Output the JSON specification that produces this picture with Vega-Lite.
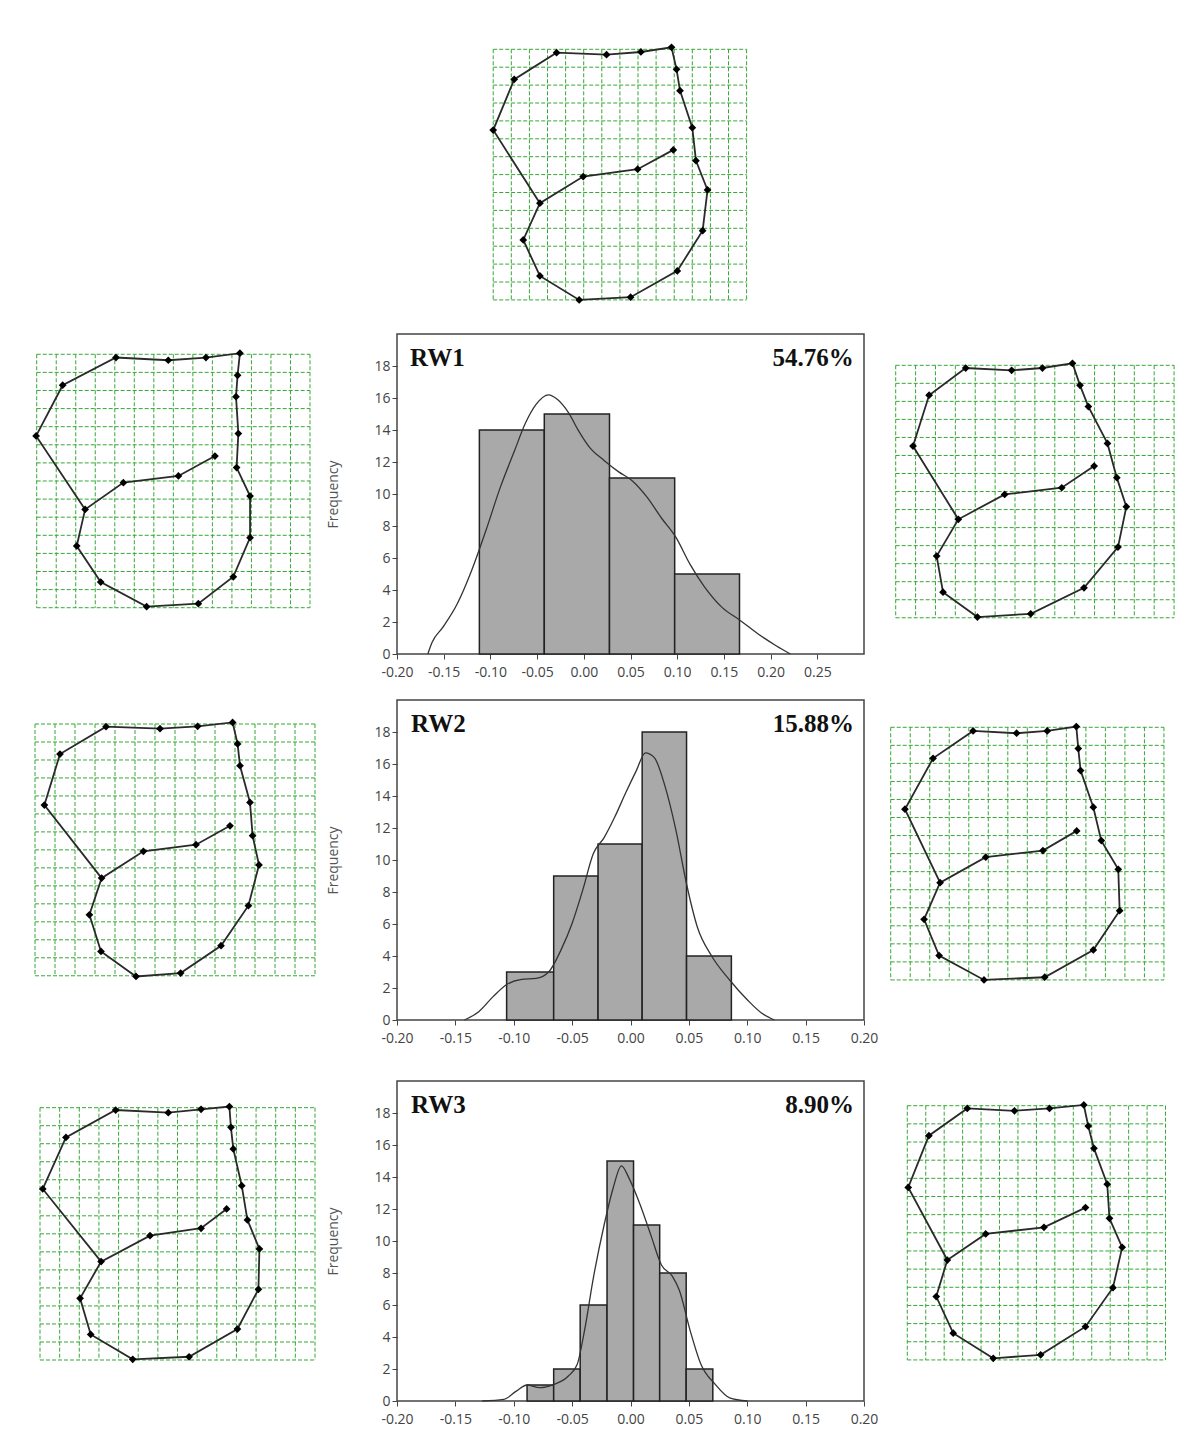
{
"$schema": "https://vega.github.io/schema/vega-lite/v6.json",
"padding": 0,
"background": "white",
"config": {
  "view": {"stroke": null},
  "locale": {"number": {"decimal": ".", "thousands": ",", "grouping": [3], "currency": ["$", ""], "minus": "-"}},
  "axis": {"grid": false, "domain": false, "tickSize": 5, "tickColor": "#444", "labelFont": "Open Sans", "labelFontSize": 14, "labelColor": "#444", "labelPadding": 2, "titleFont": "Open Sans", "titleFontSize": 14, "titleFontWeight": "normal", "titleColor": "#555"}
},
"datasets": {
  "grid": [{"g":0},{"g":1},{"g":2},{"g":3},{"g":4},{"g":5},{"g":6},{"g":7},{"g":8},{"g":9},{"g":10},{"g":11},{"g":12},{"g":13},{"g":14}],
  "lm": [
    {"p":"top","i":1,"x":9.95,"y":5.62},{"p":"top","i":2,"x":7.98,"y":6.70},{"p":"top","i":3,"x":4.97,"y":7.11},{"p":"top","i":4,"x":2.58,"y":8.60},{"p":"top","i":5,"x":1.66,"y":10.65},{"p":"top","i":6,"x":2.58,"y":12.66},{"p":"top","i":7,"x":4.75,"y":14.0},{"p":"top","i":8,"x":7.59,"y":13.85},{"p":"top","i":9,"x":10.17,"y":12.38},{"p":"top","i":10,"x":11.57,"y":10.13},{"p":"top","i":11,"x":11.84,"y":7.86},{"p":"top","i":12,"x":11.2,"y":6.22},{"p":"top","i":13,"x":11.0,"y":4.38},{"p":"top","i":14,"x":10.32,"y":2.31},{"p":"top","i":15,"x":10.13,"y":1.12},{"p":"top","i":16,"x":9.85,"y":-0.11},{"p":"top","i":17,"x":8.16,"y":0.15},{"p":"top","i":18,"x":6.26,"y":0.30},{"p":"top","i":19,"x":3.5,"y":0.19},{"p":"top","i":20,"x":1.16,"y":1.68},{"p":"top","i":21,"x":0.0,"y":4.51},{"p":"top","i":22,"x":2.58,"y":8.60},
    {"p":"L1","i":1,"x":9.13,"y":5.62},{"p":"L1","i":2,"x":7.26,"y":6.72},{"p":"L1","i":3,"x":4.44,"y":7.09},{"p":"L1","i":4,"x":2.48,"y":8.57},{"p":"L1","i":5,"x":2.05,"y":10.59},{"p":"L1","i":6,"x":3.28,"y":12.58},{"p":"L1","i":7,"x":5.63,"y":13.94},{"p":"L1","i":8,"x":8.28,"y":13.78},{"p":"L1","i":9,"x":10.07,"y":12.29},{"p":"L1","i":10,"x":10.93,"y":10.13},{"p":"L1","i":11,"x":10.93,"y":7.83},{"p":"L1","i":12,"x":10.24,"y":6.26},{"p":"L1","i":13,"x":10.33,"y":4.38},{"p":"L1","i":14,"x":10.21,"y":2.34},{"p":"L1","i":15,"x":10.29,"y":1.16},{"p":"L1","i":16,"x":10.41,"y":-0.06},{"p":"L1","i":17,"x":8.67,"y":0.18},{"p":"L1","i":18,"x":6.74,"y":0.33},{"p":"L1","i":19,"x":4.06,"y":0.18},{"p":"L1","i":20,"x":1.33,"y":1.71},{"p":"L1","i":21,"x":-0.03,"y":4.51},{"p":"L1","i":22,"x":2.48,"y":8.57},
    {"p":"R1","i":1,"x":9.98,"y":5.59},{"p":"R1","i":2,"x":8.35,"y":6.79},{"p":"R1","i":3,"x":5.48,"y":7.16},{"p":"R1","i":4,"x":3.15,"y":8.54},{"p":"R1","i":5,"x":2.06,"y":10.58},{"p":"R1","i":6,"x":2.38,"y":12.58},{"p":"R1","i":7,"x":4.11,"y":13.96},{"p":"R1","i":8,"x":6.79,"y":13.78},{"p":"R1","i":9,"x":9.47,"y":12.34},{"p":"R1","i":10,"x":11.18,"y":10.08},{"p":"R1","i":11,"x":11.6,"y":7.84},{"p":"R1","i":12,"x":11.12,"y":6.23},{"p":"R1","i":13,"x":10.65,"y":4.33},{"p":"R1","i":14,"x":9.69,"y":2.29},{"p":"R1","i":15,"x":9.27,"y":1.11},{"p":"R1","i":16,"x":8.89,"y":-0.11},{"p":"R1","i":17,"x":7.38,"y":0.15},{"p":"R1","i":18,"x":5.83,"y":0.28},{"p":"R1","i":19,"x":3.52,"y":0.15},{"p":"R1","i":20,"x":1.68,"y":1.66},{"p":"R1","i":21,"x":0.87,"y":4.48},{"p":"R1","i":22,"x":3.15,"y":8.54},
    {"p":"L2","i":1,"x":9.75,"y":5.66},{"p":"L2","i":2,"x":8.05,"y":6.71},{"p":"L2","i":3,"x":5.42,"y":7.08},{"p":"L2","i":4,"x":3.33,"y":8.57},{"p":"L2","i":5,"x":2.72,"y":10.61},{"p":"L2","i":6,"x":3.3,"y":12.65},{"p":"L2","i":7,"x":5.05,"y":14.04},{"p":"L2","i":8,"x":7.28,"y":13.85},{"p":"L2","i":9,"x":9.3,"y":12.33},{"p":"L2","i":10,"x":10.67,"y":10.1},{"p":"L2","i":11,"x":11.2,"y":7.84},{"p":"L2","i":12,"x":10.88,"y":6.21},{"p":"L2","i":13,"x":10.75,"y":4.36},{"p":"L2","i":14,"x":10.25,"y":2.32},{"p":"L2","i":15,"x":10.13,"y":1.11},{"p":"L2","i":16,"x":9.88,"y":-0.09},{"p":"L2","i":17,"x":8.13,"y":0.13},{"p":"L2","i":18,"x":6.25,"y":0.26},{"p":"L2","i":19,"x":3.55,"y":0.15},{"p":"L2","i":20,"x":1.25,"y":1.67},{"p":"L2","i":21,"x":0.47,"y":4.51},{"p":"L2","i":22,"x":3.33,"y":8.57},
    {"p":"R2","i":1,"x":9.53,"y":5.74},{"p":"R2","i":2,"x":7.8,"y":6.83},{"p":"R2","i":3,"x":4.87,"y":7.2},{"p":"R2","i":4,"x":2.53,"y":8.61},{"p":"R2","i":5,"x":1.71,"y":10.64},{"p":"R2","i":6,"x":2.48,"y":12.65},{"p":"R2","i":7,"x":4.78,"y":14.0},{"p":"R2","i":8,"x":7.89,"y":13.85},{"p":"R2","i":9,"x":10.38,"y":12.34},{"p":"R2","i":10,"x":11.73,"y":10.16},{"p":"R2","i":11,"x":11.66,"y":7.87},{"p":"R2","i":12,"x":10.79,"y":6.28},{"p":"R2","i":13,"x":10.38,"y":4.43},{"p":"R2","i":14,"x":9.73,"y":2.4},{"p":"R2","i":15,"x":9.61,"y":1.18},{"p":"R2","i":16,"x":9.51,"y":-0.04},{"p":"R2","i":17,"x":8.02,"y":0.2},{"p":"R2","i":18,"x":6.45,"y":0.33},{"p":"R2","i":19,"x":4.22,"y":0.2},{"p":"R2","i":20,"x":2.17,"y":1.72},{"p":"R2","i":21,"x":0.73,"y":4.54},{"p":"R2","i":22,"x":2.53,"y":8.61},
    {"p":"L3","i":1,"x":9.5,"y":5.62},{"p":"L3","i":2,"x":8.2,"y":6.69},{"p":"L3","i":3,"x":5.6,"y":7.1},{"p":"L3","i":4,"x":3.11,"y":8.54},{"p":"L3","i":5,"x":2.04,"y":10.58},{"p":"L3","i":6,"x":2.58,"y":12.58},{"p":"L3","i":7,"x":4.72,"y":13.96},{"p":"L3","i":8,"x":7.59,"y":13.82},{"p":"L3","i":9,"x":10.05,"y":12.28},{"p":"L3","i":10,"x":11.12,"y":10.08},{"p":"L3","i":11,"x":11.17,"y":7.84},{"p":"L3","i":12,"x":10.56,"y":6.23},{"p":"L3","i":13,"x":10.27,"y":4.33},{"p":"L3","i":14,"x":9.84,"y":2.29},{"p":"L3","i":15,"x":9.72,"y":1.09},{"p":"L3","i":16,"x":9.64,"y":-0.06},{"p":"L3","i":17,"x":8.2,"y":0.09},{"p":"L3","i":18,"x":6.53,"y":0.28},{"p":"L3","i":19,"x":3.85,"y":0.13},{"p":"L3","i":20,"x":1.32,"y":1.65},{"p":"L3","i":21,"x":0.14,"y":4.51},{"p":"L3","i":22,"x":3.11,"y":8.54},
    {"p":"R3","i":1,"x":9.66,"y":5.61},{"p":"R3","i":2,"x":7.41,"y":6.7},{"p":"R3","i":3,"x":4.25,"y":7.06},{"p":"R3","i":4,"x":2.17,"y":8.5},{"p":"R3","i":5,"x":1.57,"y":10.51},{"p":"R3","i":6,"x":2.49,"y":12.53},{"p":"R3","i":7,"x":4.66,"y":13.91},{"p":"R3","i":8,"x":7.23,"y":13.72},{"p":"R3","i":9,"x":9.66,"y":12.17},{"p":"R3","i":10,"x":11.15,"y":10.02},{"p":"R3","i":11,"x":11.65,"y":7.8},{"p":"R3","i":12,"x":10.96,"y":6.2},{"p":"R3","i":13,"x":10.84,"y":4.32},{"p":"R3","i":14,"x":10.12,"y":2.35},{"p":"R3","i":15,"x":9.81,"y":1.12},{"p":"R3","i":16,"x":9.57,"y":-0.04},{"p":"R3","i":17,"x":7.71,"y":0.15},{"p":"R3","i":18,"x":5.81,"y":0.28},{"p":"R3","i":19,"x":3.25,"y":0.15},{"p":"R3","i":20,"x":1.17,"y":1.65},{"p":"R3","i":21,"x":0.05,"y":4.5},{"p":"R3","i":22,"x":2.17,"y":8.5}
  ],
  "bins": [
    {"rw":"RW1","b0":-0.1118,"b1":-0.0423,"n":14},{"rw":"RW1","b0":-0.0423,"b1":0.0275,"n":15},{"rw":"RW1","b0":0.0275,"b1":0.0973,"n":11},{"rw":"RW1","b0":0.0973,"b1":0.1667,"n":5},
    {"rw":"RW2","b0":-0.1061,"b1":-0.0658,"n":3},{"rw":"RW2","b0":-0.0658,"b1":-0.0278,"n":9},{"rw":"RW2","b0":-0.0278,"b1":0.0100,"n":11},{"rw":"RW2","b0":0.0100,"b1":0.0480,"n":18},{"rw":"RW2","b0":0.0480,"b1":0.0864,"n":4},
    {"rw":"RW3","b0":-0.0886,"b1":-0.0658,"n":1},{"rw":"RW3","b0":-0.0658,"b1":-0.0431,"n":2},{"rw":"RW3","b0":-0.0431,"b1":-0.0201,"n":6},{"rw":"RW3","b0":-0.0201,"b1":0.0026,"n":15},{"rw":"RW3","b0":0.0026,"b1":0.0250,"n":11},{"rw":"RW3","b0":0.0250,"b1":0.0477,"n":8},{"rw":"RW3","b0":0.0477,"b1":0.0705,"n":2}
  ],
  "dens": [
    {"rw":"RW1","x":-0.167,"y":0},{"rw":"RW1","x":-0.1624,"y":0.73},{"rw":"RW1","x":-0.151,"y":1.66},{"rw":"RW1","x":-0.1356,"y":3.12},{"rw":"RW1","x":-0.1202,"y":5.2},{"rw":"RW1","x":-0.1049,"y":7.7},{"rw":"RW1","x":-0.0895,"y":10.4},{"rw":"RW1","x":-0.0742,"y":12.7},{"rw":"RW1","x":-0.0627,"y":14.4},{"rw":"RW1","x":-0.0511,"y":15.6},{"rw":"RW1","x":-0.0377,"y":16.2},{"rw":"RW1","x":-0.0281,"y":15.9},{"rw":"RW1","x":-0.0166,"y":15.1},{"rw":"RW1","x":-0.0051,"y":13.9},{"rw":"RW1","x":0.0064,"y":12.9},{"rw":"RW1","x":0.0217,"y":12.1},{"rw":"RW1","x":0.037,"y":11.4},{"rw":"RW1","x":0.0524,"y":10.8},{"rw":"RW1","x":0.0677,"y":9.8},{"rw":"RW1","x":0.0831,"y":8.5},{"rw":"RW1","x":0.0985,"y":7.3},{"rw":"RW1","x":0.1138,"y":5.6},{"rw":"RW1","x":0.1292,"y":4.2},{"rw":"RW1","x":0.1483,"y":2.9},{"rw":"RW1","x":0.1675,"y":2.1},{"rw":"RW1","x":0.1867,"y":1.25},{"rw":"RW1","x":0.2059,"y":0.52},{"rw":"RW1","x":0.2212,"y":0},
    {"rw":"RW2","x":-0.1423,"y":0},{"rw":"RW2","x":-0.13,"y":0.52},{"rw":"RW2","x":-0.1177,"y":1.46},{"rw":"RW2","x":-0.1054,"y":2.25},{"rw":"RW2","x":-0.0932,"y":2.54},{"rw":"RW2","x":-0.0809,"y":2.6},{"rw":"RW2","x":-0.0701,"y":3.0},{"rw":"RW2","x":-0.0594,"y":4.4},{"rw":"RW2","x":-0.0502,"y":6.0},{"rw":"RW2","x":-0.041,"y":8.1},{"rw":"RW2","x":-0.0318,"y":10.4},{"rw":"RW2","x":-0.0226,"y":11.4},{"rw":"RW2","x":-0.0134,"y":12.7},{"rw":"RW2","x":-0.0041,"y":14.2},{"rw":"RW2","x":0.0051,"y":15.6},{"rw":"RW2","x":0.0127,"y":16.7},{"rw":"RW2","x":0.0204,"y":16.4},{"rw":"RW2","x":0.0296,"y":14.6},{"rw":"RW2","x":0.0388,"y":11.9},{"rw":"RW2","x":0.048,"y":8.5},{"rw":"RW2","x":0.0573,"y":5.8},{"rw":"RW2","x":0.0695,"y":4.0},{"rw":"RW2","x":0.0849,"y":2.5},{"rw":"RW2","x":0.1002,"y":1.25},{"rw":"RW2","x":0.1125,"y":0.42},{"rw":"RW2","x":0.1233,"y":0},
    {"rw":"RW3","x":-0.127,"y":0},{"rw":"RW3","x":-0.1085,"y":0.1},{"rw":"RW3","x":-0.0978,"y":0.62},{"rw":"RW3","x":-0.0886,"y":1.0},{"rw":"RW3","x":-0.0778,"y":0.83},{"rw":"RW3","x":-0.0655,"y":1.04},{"rw":"RW3","x":-0.0532,"y":1.56},{"rw":"RW3","x":-0.0456,"y":2.3},{"rw":"RW3","x":-0.0394,"y":4.4},{"rw":"RW3","x":-0.0318,"y":7.7},{"rw":"RW3","x":-0.0226,"y":11.0},{"rw":"RW3","x":-0.0149,"y":13.3},{"rw":"RW3","x":-0.0078,"y":14.7},{"rw":"RW3","x":-0.0011,"y":13.9},{"rw":"RW3","x":0.0081,"y":12.3},{"rw":"RW3","x":0.0173,"y":10.4},{"rw":"RW3","x":0.0265,"y":8.5},{"rw":"RW3","x":0.0358,"y":7.8},{"rw":"RW3","x":0.0419,"y":6.9},{"rw":"RW3","x":0.0511,"y":4.4},{"rw":"RW3","x":0.0603,"y":2.3},{"rw":"RW3","x":0.0726,"y":1.04},{"rw":"RW3","x":0.0849,"y":0.2},{"rw":"RW3","x":0.1002,"y":0}
  ],
  "labels": [
    {"rw":"RW1","name":"RW1","pct":"54.76%"},
    {"rw":"RW2","name":"RW2","pct":"15.88%"},
    {"rw":"RW3","name":"RW3","pct":"8.90%"}
  ]
},
"vconcat": [
  {"width":800,"height":323,"layer":[
    {"data":{"name":"grid"},"mark":{"type":"rule","stroke":"#36a836","strokeDash":[4,2],"strokeWidth":1},"encoding":{"x":{"field":"g","type":"quantitative","scale":{"domain":[-27.25,16.95],"nice":false,"zero":false},"axis":null},"y":{"datum":0,"type":"quantitative","scale":{"domain":[-2.754,15.29],"nice":false,"zero":false,"reverse":true},"axis":null},"y2":{"datum":14}}},
    {"data":{"name":"grid"},"mark":{"type":"rule","stroke":"#36a836","strokeDash":[4,2],"strokeWidth":1},"encoding":{"y":{"field":"g","type":"quantitative","scale":{"domain":[-2.754,15.29],"nice":false,"zero":false,"reverse":true},"axis":null},"x":{"datum":0,"type":"quantitative","scale":{"domain":[-27.25,16.95],"nice":false,"zero":false},"axis":null},"x2":{"datum":14}}},
    {"data":{"name":"lm"},"transform":[{"filter":"datum.p==='top'"}],"mark":{"type":"line","stroke":"#2a2a2a","strokeWidth":1.8},"encoding":{"x":{"field":"x","type":"quantitative","scale":{"domain":[-27.25,16.95],"nice":false,"zero":false},"axis":null},"y":{"field":"y","type":"quantitative","scale":{"domain":[-2.754,15.29],"nice":false,"zero":false,"reverse":true},"axis":null},"order":{"field":"i","type":"quantitative"}}},
    {"data":{"name":"lm"},"transform":[{"filter":"datum.p==='top' && datum.i<22"}],"mark":{"type":"point","shape":"diamond","filled":true,"color":"#000","size":60,"opacity":1},"encoding":{"x":{"field":"x","type":"quantitative","scale":{"domain":[-27.25,16.95],"nice":false,"zero":false},"axis":null},"y":{"field":"y","type":"quantitative","scale":{"domain":[-2.754,15.29],"nice":false,"zero":false,"reverse":true},"axis":null}}}
  ]},
  {"hconcat":[
    {"width":326,"height":355,"layer":[
      {"data":{"name":"grid"},"mark":{"type":"rule","stroke":"#36a836","strokeDash":[4,2],"strokeWidth":1},"encoding":{"x":{"field":"g","type":"quantitative","scale":{"domain":[-1.88,14.82],"nice":false,"zero":false},"axis":null},"y":{"datum":0,"type":"quantitative","scale":{"domain":[-1.12,18.49],"nice":false,"zero":false,"reverse":true},"axis":null},"y2":{"datum":14}}},
      {"data":{"name":"grid"},"mark":{"type":"rule","stroke":"#36a836","strokeDash":[4,2],"strokeWidth":1},"encoding":{"y":{"field":"g","type":"quantitative","scale":{"domain":[-1.12,18.49],"nice":false,"zero":false,"reverse":true},"axis":null},"x":{"datum":0,"type":"quantitative","scale":{"domain":[-1.88,14.82],"nice":false,"zero":false},"axis":null},"x2":{"datum":14}}},
      {"data":{"name":"lm"},"transform":[{"filter":"datum.p==='L1'"}],"mark":{"type":"line","stroke":"#2a2a2a","strokeWidth":1.8},"encoding":{"x":{"field":"x","type":"quantitative","scale":{"domain":[-1.88,14.82],"nice":false,"zero":false},"axis":null},"y":{"field":"y","type":"quantitative","scale":{"domain":[-1.12,18.49],"nice":false,"zero":false,"reverse":true},"axis":null},"order":{"field":"i","type":"quantitative"}}},
      {"data":{"name":"lm"},"transform":[{"filter":"datum.p==='L1' && datum.i<22"}],"mark":{"type":"point","shape":"diamond","filled":true,"color":"#000","size":60,"opacity":1},"encoding":{"x":{"field":"x","type":"quantitative","scale":{"domain":[-1.88,14.82],"nice":false,"zero":false},"axis":null},"y":{"field":"y","type":"quantitative","scale":{"domain":[-1.12,18.49],"nice":false,"zero":false,"reverse":true},"axis":null}}}
    ]},
    {"width":467,"height":320,"view":{"stroke":"#444","strokeWidth":1.5},"layer":[
      {"data":{"name":"bins"},"transform":[{"filter":"datum.rw==='RW1'"}],"mark":{"type":"rect","fill":"#a9a9a9","stroke":"#222","strokeWidth":1.5},"encoding":{"x":{"field":"b0","type":"quantitative","scale":{"domain":[-0.2,0.3],"nice":false,"zero":false},"axis":{"values":[-0.2,-0.15,-0.1,-0.05,0,0.05,0.1,0.15,0.2,0.25],"format":".2f","labelFlush":false,"labelOverlap":false,"labelPadding":6,"title":null}},"x2":{"field":"b1"},"y":{"field":"n","type":"quantitative","scale":{"domain":[0,20],"nice":false,"zero":true},"axis":{"values":[0,2,4,6,8,10,12,14,16,18],"title":"Frequency","titlePadding":33,"labelOverlap":false}},"y2":{"datum":0}}},
      {"data":{"name":"dens"},"transform":[{"filter":"datum.rw==='RW1'"}],"mark":{"type":"line","interpolate":"monotone","stroke":"#333","strokeWidth":1.3},"encoding":{"x":{"field":"x","type":"quantitative","axis":{"values":[-0.2,-0.15,-0.1,-0.05,0,0.05,0.1,0.15,0.2,0.25],"format":".2f","labelFlush":false,"labelOverlap":false,"labelPadding":6,"title":null}},"y":{"field":"y","type":"quantitative","axis":{"values":[0,2,4,6,8,10,12,14,16,18],"title":"Frequency","titlePadding":33,"labelOverlap":false}}}},
      {"data":{"name":"labels"},"transform":[{"filter":"datum.rw==='RW1'"}],"mark":{"type":"text","align":"left","baseline":"middle","font":"Liberation Serif","fontWeight":"bold","fontSize":25,"color":"#111"},"encoding":{"x":{"datum":-0.186,"type":"quantitative","axis":{"values":[-0.2,-0.15,-0.1,-0.05,0,0.05,0.1,0.15,0.2,0.25],"format":".2f","labelFlush":false,"labelOverlap":false,"labelPadding":6,"title":null}},"y":{"datum":18.5,"type":"quantitative","axis":{"values":[0,2,4,6,8,10,12,14,16,18],"title":"Frequency","titlePadding":33,"labelOverlap":false}},"text":{"field":"name"}}},
      {"data":{"name":"labels"},"transform":[{"filter":"datum.rw==='RW1'"}],"mark":{"type":"text","align":"right","baseline":"middle","font":"Liberation Serif","fontWeight":"bold","fontSize":25,"color":"#111"},"encoding":{"x":{"datum":0.289,"type":"quantitative","axis":{"values":[-0.2,-0.15,-0.1,-0.05,0,0.05,0.1,0.15,0.2,0.25],"format":".2f","labelFlush":false,"labelOverlap":false,"labelPadding":6,"title":null}},"y":{"datum":18.5,"type":"quantitative","axis":{"values":[0,2,4,6,8,10,12,14,16,18],"title":"Frequency","titlePadding":33,"labelOverlap":false}},"text":{"field":"pct"}}}
    ]},
    {"width":321,"height":355,"layer":[
      {"data":{"name":"grid"},"mark":{"type":"rule","stroke":"#36a836","strokeDash":[4,2],"strokeWidth":1},"encoding":{"x":{"field":"g","type":"quantitative","scale":{"domain":[-1.544,14.60],"nice":false,"zero":false},"axis":null},"y":{"datum":0,"type":"quantitative","scale":{"domain":[-1.736,17.95],"nice":false,"zero":false,"reverse":true},"axis":null},"y2":{"datum":14}}},
      {"data":{"name":"grid"},"mark":{"type":"rule","stroke":"#36a836","strokeDash":[4,2],"strokeWidth":1},"encoding":{"y":{"field":"g","type":"quantitative","scale":{"domain":[-1.736,17.95],"nice":false,"zero":false,"reverse":true},"axis":null},"x":{"datum":0,"type":"quantitative","scale":{"domain":[-1.544,14.60],"nice":false,"zero":false},"axis":null},"x2":{"datum":14}}},
      {"data":{"name":"lm"},"transform":[{"filter":"datum.p==='R1'"}],"mark":{"type":"line","stroke":"#2a2a2a","strokeWidth":1.8},"encoding":{"x":{"field":"x","type":"quantitative","scale":{"domain":[-1.544,14.60],"nice":false,"zero":false},"axis":null},"y":{"field":"y","type":"quantitative","scale":{"domain":[-1.736,17.95],"nice":false,"zero":false,"reverse":true},"axis":null},"order":{"field":"i","type":"quantitative"}}},
      {"data":{"name":"lm"},"transform":[{"filter":"datum.p==='R1' && datum.i<22"}],"mark":{"type":"point","shape":"diamond","filled":true,"color":"#000","size":60,"opacity":1},"encoding":{"x":{"field":"x","type":"quantitative","scale":{"domain":[-1.544,14.60],"nice":false,"zero":false},"axis":null},"y":{"field":"y","type":"quantitative","scale":{"domain":[-1.736,17.95],"nice":false,"zero":false,"reverse":true},"axis":null}}}
    ]}
  ],"spacing":0},
  {"hconcat":[
    {"width":326,"height":370,"layer":[
      {"data":{"name":"grid"},"mark":{"type":"rule","stroke":"#36a836","strokeDash":[4,2],"strokeWidth":1},"encoding":{"x":{"field":"g","type":"quantitative","scale":{"domain":[-1.75,14.55],"nice":false,"zero":false},"axis":null},"y":{"datum":0,"type":"quantitative","scale":{"domain":[-1.335,19.24],"nice":false,"zero":false,"reverse":true},"axis":null},"y2":{"datum":14}}},
      {"data":{"name":"grid"},"mark":{"type":"rule","stroke":"#36a836","strokeDash":[4,2],"strokeWidth":1},"encoding":{"y":{"field":"g","type":"quantitative","scale":{"domain":[-1.335,19.24],"nice":false,"zero":false,"reverse":true},"axis":null},"x":{"datum":0,"type":"quantitative","scale":{"domain":[-1.75,14.55],"nice":false,"zero":false},"axis":null},"x2":{"datum":14}}},
      {"data":{"name":"lm"},"transform":[{"filter":"datum.p==='L2'"}],"mark":{"type":"line","stroke":"#2a2a2a","strokeWidth":1.8},"encoding":{"x":{"field":"x","type":"quantitative","scale":{"domain":[-1.75,14.55],"nice":false,"zero":false},"axis":null},"y":{"field":"y","type":"quantitative","scale":{"domain":[-1.335,19.24],"nice":false,"zero":false,"reverse":true},"axis":null},"order":{"field":"i","type":"quantitative"}}},
      {"data":{"name":"lm"},"transform":[{"filter":"datum.p==='L2' && datum.i<22"}],"mark":{"type":"point","shape":"diamond","filled":true,"color":"#000","size":60,"opacity":1},"encoding":{"x":{"field":"x","type":"quantitative","scale":{"domain":[-1.75,14.55],"nice":false,"zero":false},"axis":null},"y":{"field":"y","type":"quantitative","scale":{"domain":[-1.335,19.24],"nice":false,"zero":false,"reverse":true},"axis":null}}}
    ]},
    {"width":467,"height":320,"view":{"stroke":"#444","strokeWidth":1.5},"layer":[
      {"data":{"name":"bins"},"transform":[{"filter":"datum.rw==='RW2'"}],"mark":{"type":"rect","fill":"#a9a9a9","stroke":"#222","strokeWidth":1.5},"encoding":{"x":{"field":"b0","type":"quantitative","scale":{"domain":[-0.2,0.2],"nice":false,"zero":false},"axis":{"values":[-0.2,-0.15,-0.1,-0.05,0,0.05,0.1,0.15,0.2],"format":".2f","labelFlush":false,"labelOverlap":false,"labelPadding":6,"title":null}},"x2":{"field":"b1"},"y":{"field":"n","type":"quantitative","scale":{"domain":[0,20],"nice":false,"zero":true},"axis":{"values":[0,2,4,6,8,10,12,14,16,18],"title":"Frequency","titlePadding":33,"labelOverlap":false}},"y2":{"datum":0}}},
      {"data":{"name":"dens"},"transform":[{"filter":"datum.rw==='RW2'"}],"mark":{"type":"line","interpolate":"monotone","stroke":"#333","strokeWidth":1.3},"encoding":{"x":{"field":"x","type":"quantitative","axis":{"values":[-0.2,-0.15,-0.1,-0.05,0,0.05,0.1,0.15,0.2],"format":".2f","labelFlush":false,"labelOverlap":false,"labelPadding":6,"title":null}},"y":{"field":"y","type":"quantitative","axis":{"values":[0,2,4,6,8,10,12,14,16,18],"title":"Frequency","titlePadding":33,"labelOverlap":false}}}},
      {"data":{"name":"labels"},"transform":[{"filter":"datum.rw==='RW2'"}],"mark":{"type":"text","align":"left","baseline":"middle","font":"Liberation Serif","fontWeight":"bold","fontSize":25,"color":"#111"},"encoding":{"x":{"datum":-0.188,"type":"quantitative","axis":{"values":[-0.2,-0.15,-0.1,-0.05,0,0.05,0.1,0.15,0.2],"format":".2f","labelFlush":false,"labelOverlap":false,"labelPadding":6,"title":null}},"y":{"datum":18.5,"type":"quantitative","axis":{"values":[0,2,4,6,8,10,12,14,16,18],"title":"Frequency","titlePadding":33,"labelOverlap":false}},"text":{"field":"name"}}},
      {"data":{"name":"labels"},"transform":[{"filter":"datum.rw==='RW2'"}],"mark":{"type":"text","align":"right","baseline":"middle","font":"Liberation Serif","fontWeight":"bold","fontSize":25,"color":"#111"},"encoding":{"x":{"datum":0.1914,"type":"quantitative","axis":{"values":[-0.2,-0.15,-0.1,-0.05,0,0.05,0.1,0.15,0.2],"format":".2f","labelFlush":false,"labelOverlap":false,"labelPadding":6,"title":null}},"y":{"datum":18.5,"type":"quantitative","axis":{"values":[0,2,4,6,8,10,12,14,16,18],"title":"Frequency","titlePadding":33,"labelOverlap":false}},"text":{"field":"pct"}}}
    ]},
    {"width":307,"height":370,"layer":[
      {"data":{"name":"grid"},"mark":{"type":"rule","stroke":"#36a836","strokeDash":[4,2],"strokeWidth":1},"encoding":{"x":{"field":"g","type":"quantitative","scale":{"domain":[-0.60,15.13],"nice":false,"zero":false},"axis":null},"y":{"datum":0,"type":"quantitative","scale":{"domain":[-1.512,18.99],"nice":false,"zero":false,"reverse":true},"axis":null},"y2":{"datum":14}}},
      {"data":{"name":"grid"},"mark":{"type":"rule","stroke":"#36a836","strokeDash":[4,2],"strokeWidth":1},"encoding":{"y":{"field":"g","type":"quantitative","scale":{"domain":[-1.512,18.99],"nice":false,"zero":false,"reverse":true},"axis":null},"x":{"datum":0,"type":"quantitative","scale":{"domain":[-0.60,15.13],"nice":false,"zero":false},"axis":null},"x2":{"datum":14}}},
      {"data":{"name":"lm"},"transform":[{"filter":"datum.p==='R2'"}],"mark":{"type":"line","stroke":"#2a2a2a","strokeWidth":1.8},"encoding":{"x":{"field":"x","type":"quantitative","scale":{"domain":[-0.60,15.13],"nice":false,"zero":false},"axis":null},"y":{"field":"y","type":"quantitative","scale":{"domain":[-1.512,18.99],"nice":false,"zero":false,"reverse":true},"axis":null},"order":{"field":"i","type":"quantitative"}}},
      {"data":{"name":"lm"},"transform":[{"filter":"datum.p==='R2' && datum.i<22"}],"mark":{"type":"point","shape":"diamond","filled":true,"color":"#000","size":60,"opacity":1},"encoding":{"x":{"field":"x","type":"quantitative","scale":{"domain":[-0.60,15.13],"nice":false,"zero":false},"axis":null},"y":{"field":"y","type":"quantitative","scale":{"domain":[-1.512,18.99],"nice":false,"zero":false,"reverse":true},"axis":null}}}
    ]}
  ],"spacing":0},
  {"hconcat":[
    {"width":326,"height":363,"layer":[
      {"data":{"name":"grid"},"mark":{"type":"rule","stroke":"#36a836","strokeDash":[4,2],"strokeWidth":1},"encoding":{"x":{"field":"g","type":"quantitative","scale":{"domain":[-2.037,14.56],"nice":false,"zero":false},"axis":null},"y":{"datum":0,"type":"quantitative","scale":{"domain":[-1.48,18.66],"nice":false,"zero":false,"reverse":true},"axis":null},"y2":{"datum":14}}},
      {"data":{"name":"grid"},"mark":{"type":"rule","stroke":"#36a836","strokeDash":[4,2],"strokeWidth":1},"encoding":{"y":{"field":"g","type":"quantitative","scale":{"domain":[-1.48,18.66],"nice":false,"zero":false,"reverse":true},"axis":null},"x":{"datum":0,"type":"quantitative","scale":{"domain":[-2.037,14.56],"nice":false,"zero":false},"axis":null},"x2":{"datum":14}}},
      {"data":{"name":"lm"},"transform":[{"filter":"datum.p==='L3'"}],"mark":{"type":"line","stroke":"#2a2a2a","strokeWidth":1.8},"encoding":{"x":{"field":"x","type":"quantitative","scale":{"domain":[-2.037,14.56],"nice":false,"zero":false},"axis":null},"y":{"field":"y","type":"quantitative","scale":{"domain":[-1.48,18.66],"nice":false,"zero":false,"reverse":true},"axis":null},"order":{"field":"i","type":"quantitative"}}},
      {"data":{"name":"lm"},"transform":[{"filter":"datum.p==='L3' && datum.i<22"}],"mark":{"type":"point","shape":"diamond","filled":true,"color":"#000","size":60,"opacity":1},"encoding":{"x":{"field":"x","type":"quantitative","scale":{"domain":[-2.037,14.56],"nice":false,"zero":false},"axis":null},"y":{"field":"y","type":"quantitative","scale":{"domain":[-1.48,18.66],"nice":false,"zero":false,"reverse":true},"axis":null}}}
    ]},
    {"width":467,"height":320,"view":{"stroke":"#444","strokeWidth":1.5},"layer":[
      {"data":{"name":"bins"},"transform":[{"filter":"datum.rw==='RW3'"}],"mark":{"type":"rect","fill":"#a9a9a9","stroke":"#222","strokeWidth":1.5},"encoding":{"x":{"field":"b0","type":"quantitative","scale":{"domain":[-0.2,0.2],"nice":false,"zero":false},"axis":{"values":[-0.2,-0.15,-0.1,-0.05,0,0.05,0.1,0.15,0.2],"format":".2f","labelFlush":false,"labelOverlap":false,"labelPadding":6,"title":null}},"x2":{"field":"b1"},"y":{"field":"n","type":"quantitative","scale":{"domain":[0,20],"nice":false,"zero":true},"axis":{"values":[0,2,4,6,8,10,12,14,16,18],"title":"Frequency","titlePadding":33,"labelOverlap":false}},"y2":{"datum":0}}},
      {"data":{"name":"dens"},"transform":[{"filter":"datum.rw==='RW3'"}],"mark":{"type":"line","interpolate":"monotone","stroke":"#333","strokeWidth":1.3},"encoding":{"x":{"field":"x","type":"quantitative","axis":{"values":[-0.2,-0.15,-0.1,-0.05,0,0.05,0.1,0.15,0.2],"format":".2f","labelFlush":false,"labelOverlap":false,"labelPadding":6,"title":null}},"y":{"field":"y","type":"quantitative","axis":{"values":[0,2,4,6,8,10,12,14,16,18],"title":"Frequency","titlePadding":33,"labelOverlap":false}}}},
      {"data":{"name":"labels"},"transform":[{"filter":"datum.rw==='RW3'"}],"mark":{"type":"text","align":"left","baseline":"middle","font":"Liberation Serif","fontWeight":"bold","fontSize":25,"color":"#111"},"encoding":{"x":{"datum":-0.188,"type":"quantitative","axis":{"values":[-0.2,-0.15,-0.1,-0.05,0,0.05,0.1,0.15,0.2],"format":".2f","labelFlush":false,"labelOverlap":false,"labelPadding":6,"title":null}},"y":{"datum":18.5,"type":"quantitative","axis":{"values":[0,2,4,6,8,10,12,14,16,18],"title":"Frequency","titlePadding":33,"labelOverlap":false}},"text":{"field":"name"}}},
      {"data":{"name":"labels"},"transform":[{"filter":"datum.rw==='RW3'"}],"mark":{"type":"text","align":"right","baseline":"middle","font":"Liberation Serif","fontWeight":"bold","fontSize":25,"color":"#111"},"encoding":{"x":{"datum":0.1914,"type":"quantitative","axis":{"values":[-0.2,-0.15,-0.1,-0.05,0,0.05,0.1,0.15,0.2],"format":".2f","labelFlush":false,"labelOverlap":false,"labelPadding":6,"title":null}},"y":{"datum":18.5,"type":"quantitative","axis":{"values":[0,2,4,6,8,10,12,14,16,18],"title":"Frequency","titlePadding":33,"labelOverlap":false}},"text":{"field":"pct"}}}
    ]},
    {"width":307,"height":363,"layer":[
      {"data":{"name":"grid"},"mark":{"type":"rule","stroke":"#36a836","strokeDash":[4,2],"strokeWidth":1},"encoding":{"x":{"field":"g","type":"quantitative","scale":{"domain":[-1.534,15.11],"nice":false,"zero":false},"axis":null},"y":{"datum":0,"type":"quantitative","scale":{"domain":[-1.36,18.63],"nice":false,"zero":false,"reverse":true},"axis":null},"y2":{"datum":14}}},
      {"data":{"name":"grid"},"mark":{"type":"rule","stroke":"#36a836","strokeDash":[4,2],"strokeWidth":1},"encoding":{"y":{"field":"g","type":"quantitative","scale":{"domain":[-1.36,18.63],"nice":false,"zero":false,"reverse":true},"axis":null},"x":{"datum":0,"type":"quantitative","scale":{"domain":[-1.534,15.11],"nice":false,"zero":false},"axis":null},"x2":{"datum":14}}},
      {"data":{"name":"lm"},"transform":[{"filter":"datum.p==='R3'"}],"mark":{"type":"line","stroke":"#2a2a2a","strokeWidth":1.8},"encoding":{"x":{"field":"x","type":"quantitative","scale":{"domain":[-1.534,15.11],"nice":false,"zero":false},"axis":null},"y":{"field":"y","type":"quantitative","scale":{"domain":[-1.36,18.63],"nice":false,"zero":false,"reverse":true},"axis":null},"order":{"field":"i","type":"quantitative"}}},
      {"data":{"name":"lm"},"transform":[{"filter":"datum.p==='R3' && datum.i<22"}],"mark":{"type":"point","shape":"diamond","filled":true,"color":"#000","size":60,"opacity":1},"encoding":{"x":{"field":"x","type":"quantitative","scale":{"domain":[-1.534,15.11],"nice":false,"zero":false},"axis":null},"y":{"field":"y","type":"quantitative","scale":{"domain":[-1.36,18.63],"nice":false,"zero":false,"reverse":true},"axis":null}}}
    ]}
  ],"spacing":0}
],
"spacing": 10
}
